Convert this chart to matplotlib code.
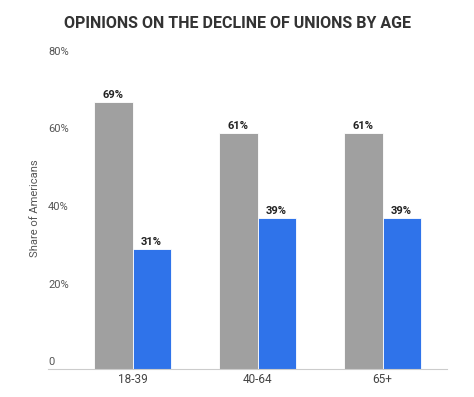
import numpy as np
import matplotlib.pyplot as plt
from matplotlib import transforms

plt.rcParams["font.family"] = ["Roboto", "DejaVu Sans"]

groups = ["18-39", "40-64", "65+"]
gray_vals = [69, 61, 61]
blue_vals = [31, 39, 39]
yticks = [0, 20, 40, 60, 80]
ytick_labels = ["0", "20%", "40%", "60%", "80%"]

W, H = 474, 397
fig = plt.figure(figsize=(W / 100, H / 100), dpi=100)
ax = fig.add_axes([48 / W, 28 / H, (447 - 48) / W, (369 - 59) / H])

x = np.arange(len(groups))
bw = 0.305
b1 = ax.bar(x - bw / 2, gray_vals, bw, color="#a0a0a0", edgecolor="white", linewidth=0.6)
b2 = ax.bar(x + bw / 2, blue_vals, bw, color="#2f73ea", edgecolor="white", linewidth=0.6)

for bars, vals in ((b1, gray_vals), (b2, blue_vals)):
    for rect, v in zip(bars, vals):
        ax.annotate(f"{v}%", (rect.get_x() + rect.get_width() / 2, v),
                    xytext=(0, 1.5), textcoords="offset points",
                    ha="center", va="bottom", fontsize=8, fontweight="bold",
                    color="#222222")

ax.set_xlim(-0.676, 2.516)
ax.set_ylim(0, 80)

# y labels sit left-aligned just above their value
lab_tr = transforms.blended_transform_factory(ax.transAxes, ax.transData) + \
    transforms.ScaledTranslation(0, 7 / 100, fig.dpi_scale_trans)
for v, s in zip(yticks, ytick_labels):
    ax.text(0, v, s, transform=lab_tr, ha="left", va="center",
            fontsize=8, color="#555555")
ax.set_yticks([])

ax.set_xticks(x)
ax.set_xticklabels(groups, fontsize=8.5, color="#444444")
ax.tick_params(axis="x", length=0, pad=3)

for side in ("top", "right", "left"):
    ax.spines[side].set_visible(False)
ax.spines["bottom"].set_color("#cccccc")
ax.spines["bottom"].set_linewidth(0.8)

fig.text(35 / W, 1 - 208 / H, "Share of Americans", rotation=90,
         ha="center", va="center", fontsize=8, color="#555555")
fig.text(237 / W, 1 - 24 / H, "OPINIONS ON THE DECLINE OF UNIONS BY AGE",
         ha="center", va="center", fontsize=11.5, fontweight="bold",
         color="#333333")

fig.savefig("out.png", dpi=100)
